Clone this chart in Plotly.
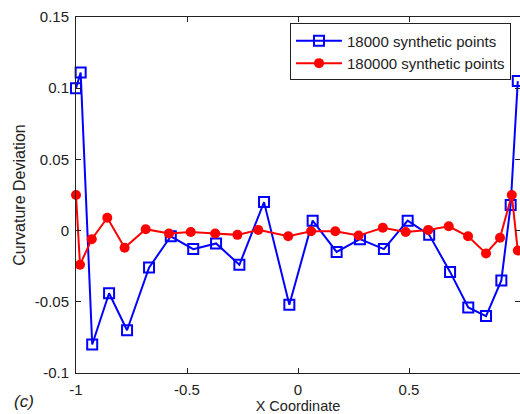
import plotly.graph_objects as go

blue_x = [-1.0, -0.979, -0.927, -0.851, -0.770, -0.671, -0.573, -0.472, -0.369, -0.264,
          -0.153, -0.039, 0.066, 0.174, 0.279, 0.387, 0.494, 0.591, 0.685, 0.767,
          0.847, 0.916, 0.958, 0.990]
blue_y = [0.100, 0.111, -0.080, -0.044, -0.070, -0.026, -0.004, -0.013, -0.009, -0.024,
          0.020, -0.052, 0.007, -0.015, -0.006, -0.013, 0.007, -0.003, -0.029, -0.054,
          -0.060, -0.035, 0.018, 0.105]

red_x = [-1.0, -0.982, -0.929, -0.859, -0.781, -0.686, -0.581, -0.483, -0.373, -0.273,
         -0.179, -0.044, 0.059, 0.168, 0.273, 0.382, 0.485, 0.587, 0.679, 0.766,
         0.847, 0.910, 0.963, 0.990]
red_y = [0.025, -0.024, -0.006, 0.009, -0.012, 0.001, -0.002, -0.001, -0.002, -0.003,
         0.0005, -0.004, -0.0005, -0.0005, -0.0035, 0.002, -0.001, 0.0005, 0.003, -0.004,
         -0.016, -0.005, 0.025, -0.014]

x_ticks = [-1, -0.5, 0, 0.5, 1]
x_labels = ["-1", "-0.5", "0", "0.5", "1"]
y_ticks = [-0.1, -0.05, 0, 0.05, 0.1, 0.15]
y_labels = ["-0.1", "-0.05", "0", "0.05", "0.1", "0.15"]

FONT = "Arial, Liberation Sans, sans-serif"

fig = go.Figure()
fig.add_trace(go.Scatter(
    x=blue_x, y=blue_y, mode="lines+markers", name="18000 synthetic points",
    line=dict(color="#0000ff", width=2),
    marker=dict(symbol="square-open", size=10, color="#0000ff", line=dict(width=2, color="#0000ff")),
    cliponaxis=False,
))
fig.add_trace(go.Scatter(
    x=red_x, y=red_y, mode="lines+markers", name="180000 synthetic points",
    line=dict(color="#ff0000", width=2),
    marker=dict(symbol="circle", size=10, color="#ff0000"),
    cliponaxis=False,
))

axis_common = dict(
    showgrid=False, zeroline=False, showline=True, linecolor="#222", linewidth=1,
    ticks="inside", ticklen=5, tickcolor="#222", mirror="ticks", automargin=False,
    tickfont=dict(family=FONT, size=15, color="#222"),
)

fig.update_layout(
    width=520, height=414,
    margin=dict(l=76, r=0, t=17, b=41),
    paper_bgcolor="white", plot_bgcolor="white",
    font=dict(family=FONT, size=15, color="#222"),
    xaxis=dict(range=[-1, 1], tickvals=x_ticks, ticktext=x_labels, ticklabelstandoff=3,
               title=dict(text="X Coordinate", standoff=3, font=dict(size=14.5)), **axis_common),
    yaxis=dict(range=[-0.1, 0.15], tickvals=y_ticks, ticktext=y_labels, ticklabelstandoff=3,
               title=dict(text="Curvature Deviation", standoff=5, font=dict(size=16)), **axis_common),
    legend=dict(x=0.482, y=0.982, xanchor="left", yanchor="top",
                bordercolor="#222", borderwidth=1, bgcolor="white",
                font=dict(size=15, family=FONT, color="#222"),
                tracegroupgap=0, itemwidth=46),
    showlegend=True,
    annotations=[dict(text="<i>(c)</i>", xref="paper", yref="paper", x=-0.145, y=-0.08,
                      xanchor="left", yanchor="middle", showarrow=False,
                      font=dict(size=17, family=FONT, color="#222"))],
)

fig.write_html("out.html", config={"displayModeBar": False},
               post_script="document.body.style.margin='0';")
